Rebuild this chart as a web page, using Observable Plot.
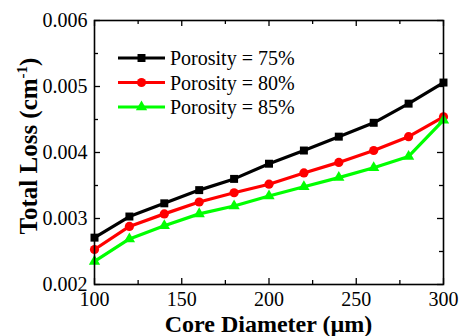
<!DOCTYPE html>
<html>
<head>
<meta charset="utf-8">
<script src="https://cdn.jsdelivr.net/npm/d3@7"></script>
<script src="https://cdn.jsdelivr.net/npm/@observablehq/plot@0.6"></script>
<style>
  html, body { margin: 0; padding: 0; background: #fff; }
  #chart { position: relative; width: 459px; height: 336px; }
  #chart svg text { font-family: "Liberation Serif", "Times New Roman", Times, serif; }
</style>
</head>
<body>
<div id="chart"></div>
<script>
// Core diameter (µm) and total loss (cm^-1) for three porosities
const diameters = [100, 120, 140, 160, 180, 200, 220, 240, 260, 280, 300];
const loss75 = [0.00271, 0.00303, 0.00323, 0.00343, 0.00360, 0.00383, 0.00403, 0.00424, 0.00445, 0.00474, 0.00506];
const loss80 = [0.00253, 0.00288, 0.00307, 0.00325, 0.00339, 0.00352, 0.00369, 0.00385, 0.00403, 0.00424, 0.00454];
const loss85 = [0.00235, 0.00269, 0.00289, 0.00307, 0.00319, 0.00334, 0.00348, 0.00362, 0.00377, 0.00394, 0.00449];

const seriesNames = ["Porosity = 75%", "Porosity = 80%", "Porosity = 85%"];
const seriesColors = ["#000000", "#ff0000", "#00ff00"];
const seriesSymbols = ["square", "circle", "triangle"];
const seriesRadius = [4.5, 4.6, 4.2];

const xMajor = [100, 150, 200, 250, 300];
const xMinor = [125, 175, 225, 275];
const yMajor = [0.002, 0.003, 0.004, 0.005, 0.006];
const yMinor = [0.0025, 0.0035, 0.0045, 0.0055];

const xTitle = "Core Diameter (\u00b5m)";
const yTitle = ["Total Loss (cm", "-1", ")"];

const seriesValues = [loss75, loss80, loss85];
const rows = seriesValues.flatMap((vals, s) =>
  diameters.map((d, i) => ({diameter: d, loss: vals[i], series: seriesNames[s]}))
);

const W = 459, H = 336;
const M = {top: 20, right: 16, bottom: 52, left: 94};
const innerW = W - M.left - M.right;
const innerH = H - M.top - M.bottom;
const major = 6, minor = 4;

const marks = [];
// inward ticks on all four sides
marks.push(Plot.tickX(xMajor, {x: d => d, insetTop: innerH - major, strokeWidth: 1.3}));
marks.push(Plot.tickX(xMajor, {x: d => d, insetBottom: innerH - major, strokeWidth: 1.3}));
marks.push(Plot.tickX(xMinor, {x: d => d, insetTop: innerH - minor, strokeWidth: 1.3}));
marks.push(Plot.tickX(xMinor, {x: d => d, insetBottom: innerH - minor, strokeWidth: 1.3}));
marks.push(Plot.tickY(yMajor, {y: d => d, insetRight: innerW - major, strokeWidth: 1.3}));
marks.push(Plot.tickY(yMajor, {y: d => d, insetLeft: innerW - major, strokeWidth: 1.3}));
marks.push(Plot.tickY(yMinor, {y: d => d, insetRight: innerW - minor, strokeWidth: 1.3}));
marks.push(Plot.tickY(yMinor, {y: d => d, insetLeft: innerW - minor, strokeWidth: 1.3}));

seriesNames.forEach((name, s) => {
  const data = rows.filter(r => r.series === name);
  marks.push(Plot.line(data, {x: "diameter", y: "loss", stroke: seriesColors[s], strokeWidth: 3.2}));
  marks.push(Plot.dot(data, {x: "diameter", y: "loss", symbol: seriesSymbols[s], fill: seriesColors[s], r: seriesRadius[s], stroke: "none"}));
});
marks.push(Plot.frame({stroke: "#000", strokeWidth: 1.6}));

const svg = Plot.plot({
  width: W,
  height: H,
  marginTop: M.top,
  marginRight: M.right,
  marginBottom: M.bottom,
  marginLeft: M.left,
  style: {fontSize: "20px", color: "#000", background: "#fff", overflow: "hidden"},
  x: {domain: [100, 300], ticks: xMajor, tickSize: 0, tickPadding: 7, label: null, tickFormat: d3.format("d")},
  y: {domain: [0.002, 0.006], ticks: yMajor, tickSize: 0, tickPadding: 7, label: null, tickFormat: d3.format(".3f")},
  marks
});

const root = d3.select(svg);

// axis titles
root.append("text")
  .attr("x", M.left + innerW / 2)
  .attr("y", 332)
  .attr("text-anchor", "middle")
  .attr("font-weight", "bold")
  .attr("font-size", 24)
  .attr("fill", "#000")
  .text(xTitle);

const yt = root.append("text")
  .attr("transform", "translate(37,146) rotate(-90)")
  .attr("text-anchor", "middle")
  .attr("font-weight", "bold")
  .attr("font-size", 25)
  .attr("fill", "#000");
yt.append("tspan").text(yTitle[0]);
yt.append("tspan").attr("font-size", 15).attr("dy", -10).text(yTitle[1]);
yt.append("tspan").attr("dy", 10).text(yTitle[2]);

// legend in the upper left of the plot area
const leg = root.append("g").attr("transform", "translate(118,58)");
seriesNames.forEach((name, s) => {
  const g = leg.append("g").attr("transform", `translate(0,${s * 24.5})`);
  g.append("path").attr("d", "M0,0H47")
    .attr("fill", "none").attr("stroke", seriesColors[s]).attr("stroke-width", 3.2);
  const sym = d3.symbol().type(
    seriesSymbols[s] === "square" ? d3.symbolSquare :
    seriesSymbols[s] === "circle" ? d3.symbolCircle : d3.symbolTriangle
  ).size(Math.PI * seriesRadius[s] * seriesRadius[s]);
  g.append("path").attr("d", sym()).attr("transform", "translate(23.5,0)")
    .attr("fill", seriesColors[s]).attr("stroke", "none");
  g.append("text").attr("x", 52).attr("y", 0).attr("dy", "0.35em")
    .attr("text-anchor", "start")
    .attr("font-size", 20).attr("fill", "#000").text(name);
});

document.getElementById("chart").appendChild(svg);
</script>
</body>
</html>
